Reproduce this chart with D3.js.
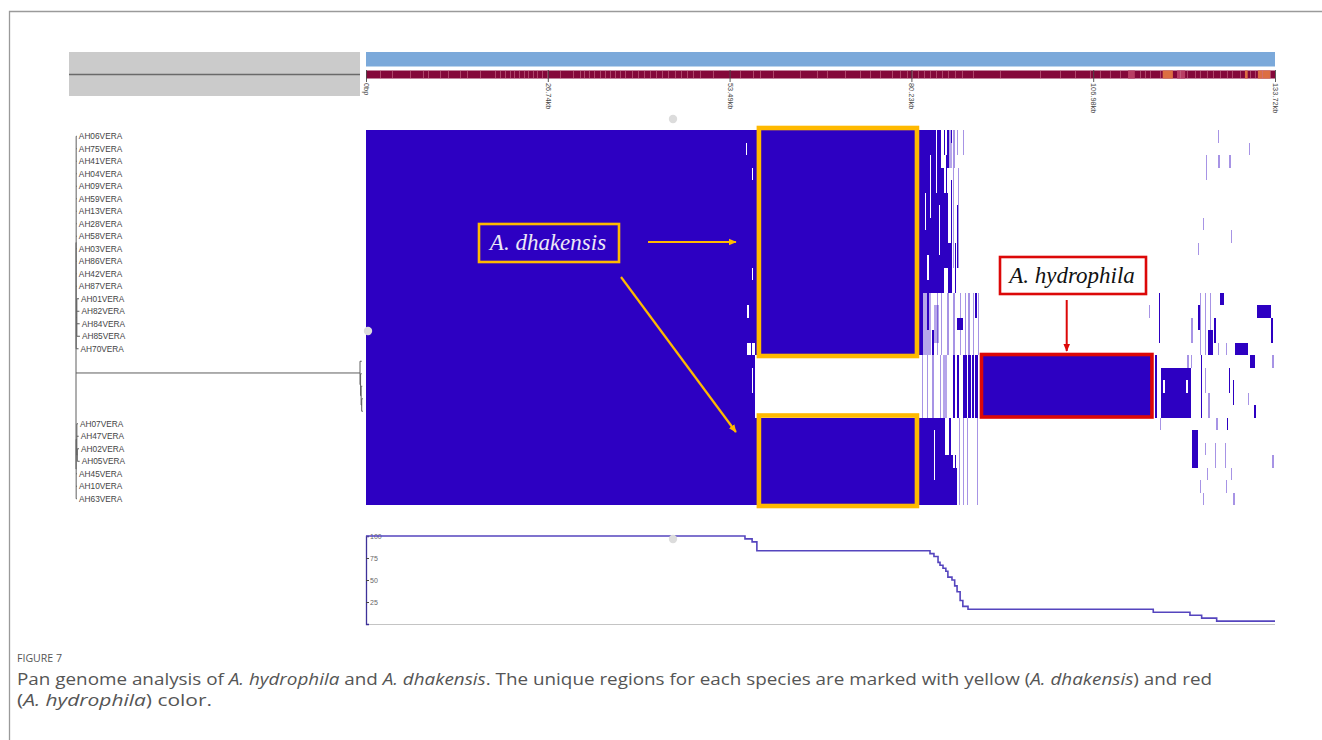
<!DOCTYPE html>
<html>
<head>
<meta charset="utf-8">
<script src="https://cdn.jsdelivr.net/npm/d3@7"></script>
<style>
  html, body { margin: 0; padding: 0; background: #fff; }
  svg { display: block; }
</style>
</head>
<body>
<svg id="fig" width="1322" height="740"></svg>
<script>
// ---------- data ----------
const genomeLengthKb = 133.72;
const axisTicksKb = [0, 26.744, 53.488, 80.232, 106.976, 133.72];
const axisTickLabels = ["0bp", "26.74kb", "53.49kb", "80.23kb", "106.98kb", "133.72kb"];

const rowCount = 30;
// isolate names in tree order (rows 18-22 are the A. hydrophila isolates, unlabeled)
const isolateLabels = [
  "AH06VERA", "AH75VERA", "AH41VERA", "AH04VERA", "AH09VERA", "AH59VERA",
  "AH13VERA", "AH28VERA", "AH58VERA", "AH03VERA", "AH86VERA", "AH42VERA",
  "AH87VERA", "AH01VERA", "AH82VERA", "AH84VERA", "AH85VERA", "AH70VERA",
  "", "", "", "", "",
  "AH07VERA", "AH47VERA", "AH02VERA", "AH05VERA", "AH45VERA", "AH10VERA", "AH63VERA"
];

// phylogeny (branch lengths); leaves point at heatmap rows
const treeData = { len: 0, children: [
  { len: 0.0003, children: [
    { row: 0, len: 0.0012 }, { row: 1, len: 0.0012 }, { row: 2, len: 0.0012 },
    { row: 3, len: 0.0012 }, { row: 4, len: 0.0012 }, { row: 5, len: 0.0012 },
    { row: 6, len: 0.0012 }, { row: 7, len: 0.0012 }, { row: 8, len: 0.0012 },
    { row: 9, len: 0.0012 }, { row: 10, len: 0.0012 }, { row: 11, len: 0.0012 },
    { row: 12, len: 0.0012 },
    { len: 0.0012, children: [
      { row: 13, len: 0.0038 }, { row: 14, len: 0.0045 },
      { row: 15, len: 0.0050 }, { row: 16, len: 0.0055 }
    ]},
    { row: 17, len: 0.0042 }
  ]},
  { len: 0.5, children: [
    { row: 18, len: 0.003 },
    { len: 0.001, children: [
      { row: 19, len: 0.002 },
      { len: 0.001, children: [
        { row: 20, len: 0.002 },
        { len: 0.001, children: [ { row: 21, len: 0.002 }, { row: 22, len: 0.002 } ] }
      ]}
    ]}
  ]},
  { len: 0.0003, children: [
    { len: 0.0012, children: [
      { row: 23, len: 0.0020 }, { row: 24, len: 0.0032 },
      { len: 0.0008, children: [ { row: 25, len: 0.0030 }, { row: 26, len: 0.0042 } ] }
    ]},
    { row: 27, len: 0.0015 }, { row: 28, len: 0.0015 }, { row: 29, len: 0.0015 }
  ]}
]};

// gene presence blocks: [firstRow, lastRow, startKb, endKb]
const presentBlocks = [
  [0, 29, 0, 57.2],
  [0, 17, 57.2, 81.6],
  [23, 29, 57.2, 81.6],
  [0, 12, 81.6, 83.3],
  [0, 3, 83.3, 84.6],
  [3, 12, 83.3, 85.0],
  [5, 10, 85.0, 85.6],
  [9, 12, 85.6, 86.2],
  [13, 17, 81.6, 81.9],
  [23, 29, 81.6, 85.2],
  [26, 29, 85.2, 86.4],
  [27, 29, 86.4, 87.0],
  [15, 15, 86.9, 87.8],
  [18, 22, 87.8, 90.1],
  [18, 22, 90.3, 115.8],
  [18, 22, 116.1, 116.4],
  [19, 22, 116.95, 121.36],
  [24, 26, 121.5, 122.4],
  [16, 17, 123.9, 124.6],
  [13, 13, 125.6, 126.2],
  [17, 17, 127.8, 129.7],
  [18, 18, 130.0, 130.8],
  [14, 14, 131.1, 133.1]
];
// genes carried by part of a group, drawn faint: [firstRow, lastRow, startKb, endKb]
const faintBlocks = [
  [13, 17, 81.9, 83.1], [14, 16, 83.5, 84.3], [18, 22, 84.9, 85.5], [0, 2, 85.6, 86.2]
];
// single genes present: [firstRow, lastRow, kb]
const presentLines = [
  [0, 1, 85.0], [0, 2, 85.5], [0, 0, 86.0], [2, 6, 85.3], [4, 8, 86.0],
  [6, 10, 86.9], [9, 12, 86.6], [13, 14, 89.6], [13, 15, 82.6], [16, 17, 83.3],
  [18, 22, 86.4], [18, 22, 87.0], [23, 25, 85.8], [26, 29, 86.6],
  [13, 16, 116.6], [14, 15, 122.4], [18, 22, 122.8],
  [15, 16, 124.8], [19, 20, 126.9], [20, 21, 127.5], [22, 22, 130.7], [23, 23, 126.6],
  [15, 16, 133.2]
];
// faint single genes: [firstRow, lastRow, kb]
const faintLines = [
  [0, 1, 86.9], [0, 1, 87.8], [0, 2, 86.4], [3, 10, 86.3], [3, 10, 87.1],
  [13, 17, 84.0], [13, 17, 84.6], [13, 17, 85.5],
  [13, 17, 86.4], [13, 17, 87.4], [13, 17, 88.1], [13, 17, 88.6], [13, 17, 89.3],
  [13, 17, 90.0], [18, 22, 81.8], [18, 22, 82.5], [18, 22, 83.3], [18, 22, 84.4],
  [23, 29, 87.2], [23, 29, 87.8], [23, 29, 88.4], [23, 29, 89.9],
  [14, 14, 115.2], [23, 23, 116.8], [18, 18, 120.8], [18, 18, 121.3], [15, 16, 121.4],
  [19, 20, 123.4], [13, 17, 122.7], [13, 17, 123.4], [13, 17, 124.1], [17, 17, 125.3],
  [17, 17, 126.5], [18, 18, 133.3], [21, 21, 129.7], [23, 23, 125.1], [21, 22, 123.9],
  [25, 25, 123.4], [25, 26, 124.9], [25, 26, 126.3], [27, 27, 123.7], [27, 27, 127.2],
  [28, 28, 122.7], [28, 28, 126.5], [29, 29, 123.1], [29, 29, 127.6], [26, 26, 133.3],
  [0, 0, 125.3], [1, 1, 129.9], [2, 3, 123.5], [2, 2, 125.4], [2, 2, 127.0],
  [7, 7, 123.1], [9, 9, 122.4], [8, 8, 127.2]
];
// absent stretches inside filled regions: [firstRow, lastRow, startKb, endKb]
const absentGaps = [
  [17, 17, 56.1, 56.6], [17, 17, 56.75, 57.2], [1, 1, 55.85, 56.05], [3, 3, 56.8, 57.0],
  [11, 11, 56.8, 57.0], [14, 14, 56.1, 56.3], [19, 20, 56.8, 57.0], [2, 6, 82.9, 83.1],
  [5, 7, 82.2, 82.35], [10, 11, 82.6, 82.75], [0, 4, 83.9, 84.05], [6, 9, 84.3, 84.45],
  [24, 27, 83.6, 83.75], [18, 22, 88.4, 88.6], [18, 22, 89.0, 89.15],
  [18, 22, 89.5, 89.65], [20, 20, 117.2, 117.5], [20, 20, 120.6, 120.9]
];

// annotation track: lighter gene boundaries and coloured features (kb)
const annotationBreaksKb = [
  2.06, 3.82, 6.47, 8.38, 9.12, 10.89, 12.06, 13.83, 14.86, 16.77, 18.98, 19.71, 20.45,
  21.18, 21.77, 22.51, 23.24, 23.83, 24.57, 25.15, 25.89, 26.63, 28.54, 30.45, 31.48,
  32.07, 32.80, 33.54, 34.42, 35.16, 35.89, 36.63, 37.36, 38.10, 39.13, 40.01, 40.89,
  41.78, 42.66, 43.54, 44.43, 45.45, 46.34, 47.22, 48.10, 49.13, 51.04, 55.02, 56.93,
  57.96, 59.87, 63.84, 66.34, 67.81, 70.46, 72.67, 74.14, 75.61, 77.38, 78.55, 79.58,
  80.32, 81.20, 82.08, 82.97, 83.85, 84.73, 85.61, 86.64, 87.67, 89.29, 93.26, 99.15,
  102.09, 104.30, 106.50, 107.97, 109.44, 110.92, 113.86, 114.59, 115.33, 116.80,
  119.74, 120.77, 121.95, 122.68, 123.71, 124.60, 125.63, 126.65, 127.39, 128.57,
  130.04, 130.77, 131.80, 132.98
];
const annotationOrangeKb = [[117.2, 118.7], [129.3, 129.7], [131.2, 133.0]];
const annotationPinkKb = [[112.1, 113.1], [119.3, 120.5]];

// percentage of isolates carrying each gene, as steps: [startKb, percent]
const frequencySteps = [
  [0, 100], [55.75, 96.7], [56.8, 93.3], [57.5, 83.3], [82.97, 80.0], [83.55, 76.7],
  [84.15, 70.0], [84.44, 66.7], [84.88, 63.3], [85.3, 60.0], [85.6, 53.3], [86.2, 50.0],
  [86.6, 43.3], [86.95, 36.7], [87.4, 26.7], [87.8, 20.0], [88.56, 16.7], [115.81, 13.3],
  [121.21, 10.0], [122.93, 6.7], [125.14, 3.3], [133.72, 3.3]
];
const frequencyTicks = [25, 50, 75, 100];

// species-specific regions
const dhakensisRegionKb = [57.8, 81.05];
const dhakensisRowGroups = [[0, 17], [23, 29]];
const hydrophilaRegionKb = [90.54, 115.62];
const hydrophilaRowGroup = [18, 22];

// ---------- drawing ----------
const W = 1322, H = 740;
const svg = d3.select("#fig");
svg.append("rect").attr("width", W).attr("height", H).attr("fill", "#fff");

const heatBlue = "#2d00c2";
const yellow = "#ffb900";
const red = "#dc0808";

const x = d3.scaleLinear().domain([0, genomeLengthKb]).range([366, 1275]);
const rowY = d3.scaleBand().domain(d3.range(rowCount)).range([130, 505]);
const bw = rowY.bandwidth();
const rowMid = r => rowY(r) + bw / 2;
const yFreq = d3.scaleLinear().domain([0, 100]).range([624, 536]);
const treeX = d3.scaleLinear().domain([0, 0.5]).range([76, 360]);

// figure frame
svg.append("path").attr("d", "M9.5,740V11.5H1322")
  .attr("fill", "none").attr("stroke", "#9a9a9a").attr("stroke-width", 1.3);

// header panel above the tree
svg.append("rect").attr("x", 69).attr("y", 52).attr("width", 291).attr("height", 44).attr("fill", "#cbcbcb");
svg.append("line").attr("x1", 69).attr("x2", 360).attr("y1", 74.5).attr("y2", 74.5)
  .attr("stroke", "#6a6a6a").attr("stroke-width", 1.6);

// ---- tree ----
const root = d3.hierarchy(treeData);
root.eachBefore(n => { n.bx = (n.parent ? n.parent.bx : 0) + (n.data.len || 0); });
root.eachAfter(n => {
  n.py = n.children
    ? (n.children[0].py + n.children[n.children.length - 1].py) / 2
    : rowMid(n.data.row);
});
const gTree = svg.append("g").attr("stroke", "#5e5e5e").attr("stroke-width", 1).attr("fill", "none");
gTree.selectAll("line.v").data(root.descendants().filter(n => n.children)).join("line")
  .attr("class", "v")
  .attr("x1", n => treeX(n.bx)).attr("x2", n => treeX(n.bx))
  .attr("y1", n => n.children[0].py).attr("y2", n => n.children[n.children.length - 1].py);
gTree.selectAll("line.h").data(root.descendants().filter(n => n.parent)).join("line")
  .attr("class", "h")
  .attr("x1", n => treeX(n.parent.bx)).attr("x2", n => treeX(n.bx))
  .attr("y1", n => n.py).attr("y2", n => n.py);

svg.append("g").selectAll("text")
  .data(root.leaves().filter(n => isolateLabels[n.data.row]))
  .join("text")
  .attr("x", n => treeX(n.bx) + 2)
  .attr("y", n => n.py)
  .attr("dominant-baseline", "central")
  .attr("font-family", "Liberation Sans, Arial, sans-serif")
  .attr("font-size", 8.3)
  .attr("fill", "#444")
  .text(n => isolateLabels[n.data.row]);

// ---- heatmap ----
const gHeat = svg.append("g").attr("shape-rendering", "crispEdges");
const spanY = d => rowY(d[0]);
const spanH = d => rowY(d[1]) + bw - rowY(d[0]);
gHeat.selectAll("rect.fb").data(faintBlocks).join("rect")
  .attr("class", "fb")
  .attr("x", d => x(d[2])).attr("width", d => x(d[3]) - x(d[2]))
  .attr("y", spanY).attr("height", spanH)
  .attr("fill", heatBlue).attr("fill-opacity", 0.35);
gHeat.selectAll("rect.blk").data(presentBlocks).join("rect")
  .attr("class", "blk")
  .attr("x", d => x(d[2])).attr("width", d => x(d[3]) - x(d[2]))
  .attr("y", spanY).attr("height", spanH)
  .attr("fill", heatBlue);
gHeat.selectAll("rect.gap").data(absentGaps).join("rect")
  .attr("class", "gap")
  .attr("x", d => x(d[2])).attr("width", d => x(d[3]) - x(d[2]))
  .attr("y", spanY).attr("height", spanH)
  .attr("fill", "#fff");
gHeat.selectAll("rect.ln").data(presentLines).join("rect")
  .attr("class", "ln")
  .attr("x", d => x(d[2])).attr("width", x(0.24) - x(0))
  .attr("y", spanY).attr("height", spanH)
  .attr("fill", heatBlue);
gHeat.selectAll("rect.fl").data(faintLines).join("rect")
  .attr("class", "fl")
  .attr("x", d => x(d[2])).attr("width", x(0.2) - x(0))
  .attr("y", spanY).attr("height", spanH)
  .attr("fill", heatBlue).attr("fill-opacity", 0.42);

// ---- genome tracks ----
svg.append("rect").attr("x", x(0)).attr("y", 52).attr("width", x(genomeLengthKb) - x(0)).attr("height", 14.5)
  .attr("fill", "#7ba9da");
const gAnn = svg.append("g");
gAnn.append("rect").attr("x", x(0)).attr("y", 70.5).attr("width", x(genomeLengthKb) - x(0)).attr("height", 8)
  .attr("fill", "#84083a");
gAnn.selectAll("rect.pk").data(annotationPinkKb).join("rect").attr("class", "pk")
  .attr("x", d => x(d[0])).attr("width", d => x(d[1]) - x(d[0]))
  .attr("y", 70.5).attr("height", 8).attr("fill", "#b83e64");
gAnn.selectAll("rect.or").data(annotationOrangeKb).join("rect").attr("class", "or")
  .attr("x", d => x(d[0])).attr("width", d => x(d[1]) - x(d[0]))
  .attr("y", 70.5).attr("height", 8).attr("fill", "#dc6e42");
gAnn.selectAll("rect.br").data(annotationBreaksKb).join("rect").attr("class", "br")
  .attr("x", d => x(d)).attr("width", 1)
  .attr("y", 70.5).attr("height", 8).attr("fill", "#c9708c").attr("fill-opacity", 0.6);

// position axis with vertical labels
const gAxis = svg.append("g").attr("transform", "translate(0,70)")
  .call(d3.axisBottom(x).tickValues(axisTicksKb).tickFormat((d, i) => axisTickLabels[i]).tickSize(12).tickPadding(1));
gAxis.select(".domain").remove();
gAxis.selectAll(".tick line").attr("stroke", "#4a4a4a").attr("stroke-width", 0.9);
gAxis.selectAll(".tick text")
  .attr("transform", "rotate(90)")
  .attr("x", 13).attr("y", 0).attr("dy", "0.35em")
  .attr("text-anchor", "start")
  .attr("font-family", "Liberation Sans, Arial, sans-serif")
  .attr("font-size", 7.4).attr("fill", "#444");

// ---- frequency profile ----
svg.append("line").attr("x1", x(0)).attr("x2", x(genomeLengthKb)).attr("y1", 624.5).attr("y2", 624.5)
  .attr("stroke", "#c4c4c4").attr("stroke-width", 1.2);
const gFreq = svg.append("g").attr("transform", `translate(${x(0)},0)`)
  .call(d3.axisRight(yFreq).tickValues(frequencyTicks).tickSize(3).tickPadding(1));
gFreq.select(".domain").attr("stroke", "#3e3299").attr("stroke-width", 1.3);
gFreq.selectAll(".tick line").attr("stroke", "#444");
gFreq.selectAll(".tick text")
  .attr("font-family", "Liberation Sans, Arial, sans-serif")
  .attr("font-size", 7).attr("fill", "#666");

svg.append("path").datum(frequencySteps)
  .attr("d", d3.line().x(d => x(d[0])).y(d => yFreq(d[1])).curve(d3.curveStepAfter))
  .attr("fill", "none").attr("stroke", "#5545be").attr("stroke-width", 1.6);

// viewer handles
svg.append("g").selectAll("circle")
  .data([[673, 119], [368, 331], [673, 539]]).join("circle")
  .attr("cx", d => d[0]).attr("cy", d => d[1]).attr("r", 4.2).attr("fill", "#dcdcdc");

// ---- species region boxes ----
const gBox = svg.append("g").attr("fill", "none");
gBox.selectAll("rect.yb").data(dhakensisRowGroups).join("rect").attr("class", "yb")
  .attr("x", x(dhakensisRegionKb[0])).attr("width", x(dhakensisRegionKb[1]) - x(dhakensisRegionKb[0]))
  .attr("y", d => rowY(d[0]) - 2).attr("height", d => rowY(d[1]) + bw + 1 - (rowY(d[0]) - 2))
  .attr("stroke", yellow).attr("stroke-width", 4.6);
gBox.append("rect")
  .attr("x", x(hydrophilaRegionKb[0])).attr("width", x(hydrophilaRegionKb[1]) - x(hydrophilaRegionKb[0]))
  .attr("y", rowY(hydrophilaRowGroup[0]) - 0.5)
  .attr("height", rowY(hydrophilaRowGroup[1]) + bw - rowY(hydrophilaRowGroup[0]))
  .attr("stroke", red).attr("stroke-width", 3.6);

// arrow heads
const defs = svg.append("defs");
[["headY", yellow], ["headR", red]].forEach(([id, c]) => {
  defs.append("marker").attr("id", id).attr("viewBox", "0 0 10 10")
    .attr("refX", 9).attr("refY", 5).attr("markerWidth", 8).attr("markerHeight", 8)
    .attr("markerUnits", "userSpaceOnUse").attr("orient", "auto")
    .append("path").attr("d", "M0,0.8L10,5L0,9.2z").attr("fill", c);
});

// A. dhakensis label and arrows
svg.append("rect").attr("x", 479).attr("y", 224).attr("width", 140).attr("height", 38)
  .attr("fill", "none").attr("stroke", yellow).attr("stroke-width", 2.6);
svg.append("text").attr("x", 548).attr("y", 250).attr("text-anchor", "middle")
  .attr("font-family", "Liberation Serif, Times New Roman, serif").attr("font-style", "italic")
  .attr("font-size", 23).attr("fill", "#ece8f6").text("A. dhakensis");
const yBoxLeft = x(dhakensisRegionKb[0]);
svg.append("line").attr("x1", 648).attr("y1", 242).attr("x2", yBoxLeft - 23).attr("y2", 242)
  .attr("stroke", yellow).attr("stroke-width", 2.2).attr("marker-end", "url(#headY)");
svg.append("line").attr("x1", 621).attr("y1", 277).attr("x2", yBoxLeft - 23).attr("y2", 432)
  .attr("stroke", yellow).attr("stroke-width", 2.2).attr("marker-end", "url(#headY)");

// A. hydrophila label and arrow
const rMid = (x(hydrophilaRegionKb[0]) + x(hydrophilaRegionKb[1])) / 2;
svg.append("rect").attr("x", 1000).attr("y", 257).attr("width", 146).attr("height", 37)
  .attr("fill", "#fff").attr("stroke", red).attr("stroke-width", 2.6);
svg.append("text").attr("x", 1072).attr("y", 283).attr("text-anchor", "middle")
  .attr("font-family", "Liberation Serif, Times New Roman, serif").attr("font-style", "italic")
  .attr("font-size", 23).attr("fill", "#111").text("A. hydrophila");
svg.append("line").attr("x1", rMid).attr("y1", 300).attr("x2", rMid).attr("y2", rowY(hydrophilaRowGroup[0]) - 4)
  .attr("stroke", red).attr("stroke-width", 2).attr("marker-end", "url(#headR)");

// ---- caption ----
const capFont = "Open Sans, Noto Sans, sans-serif";
svg.append("text").attr("x", 17).attr("y", 662)
  .attr("font-family", capFont).attr("font-size", 11).attr("fill", "#555")
  .attr("textLength", 45).attr("lengthAdjust", "spacingAndGlyphs").text("FIGURE 7");

function captionLine(y, parts, len) {
  const t = svg.append("text").attr("x", 17).attr("y", y)
    .attr("font-family", capFont).attr("font-size", 15.5).attr("fill", "#555")
    .attr("textLength", len).attr("lengthAdjust", "spacingAndGlyphs");
  parts.forEach(([s, it]) => t.append("tspan").attr("font-style", it ? "italic" : null).text(s));
}
captionLine(685, [
  ["Pan genome analysis of ", 0], ["A. hydrophila", 1], [" and ", 0], ["A. dhakensis", 1],
  [". The unique regions for each species are marked with yellow (", 0], ["A. dhakensis", 1], [") and red", 0]
], 1195);
captionLine(706, [["(", 0], ["A. hydrophila", 1], [") color.", 0]], 195);
</script>
</body>
</html>
